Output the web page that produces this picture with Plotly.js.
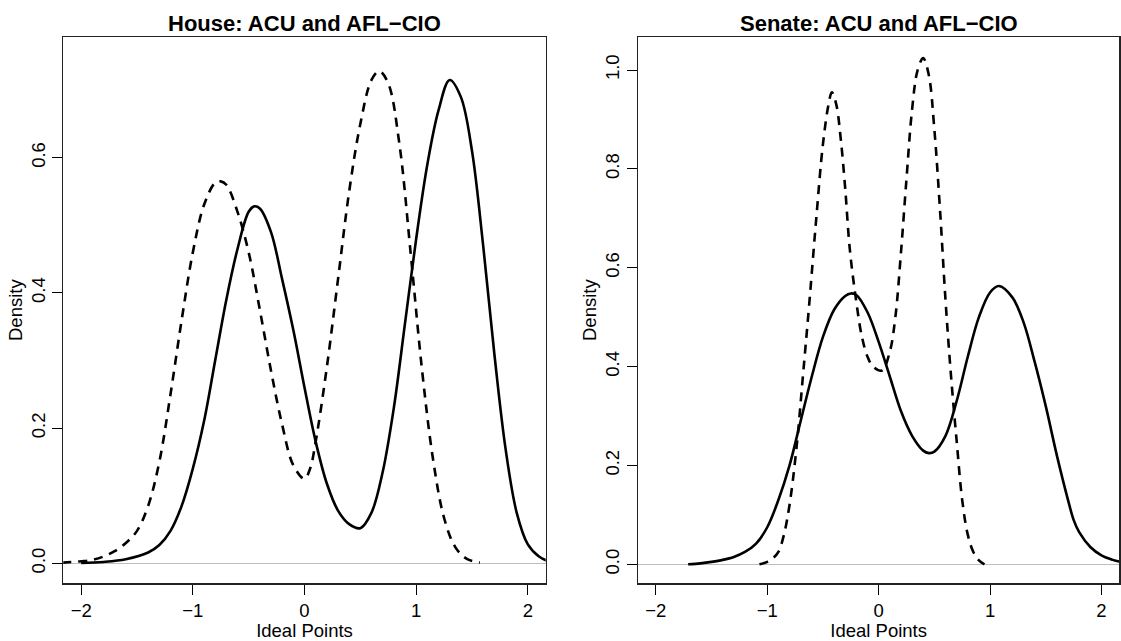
<!DOCTYPE html>
<html>
<head>
<meta charset="utf-8">
<script src="https://cdn.plot.ly/plotly-3.0.1.min.js"></script>
<style>html,body{margin:0;padding:0;background:#fff;}#chart{width:1121px;height:641px;}</style>
</head>
<body>
<div id="chart"></div>
<script>
// House panel
var houseSolidX = [-2.0, -1.8, -1.6, -1.4, -1.3, -1.2, -1.1, -1.0, -0.9, -0.8, -0.7, -0.6, -0.5, -0.45, -0.4, -0.3, -0.2, -0.1, 0.0, 0.1, 0.2, 0.3, 0.4, 0.5, 0.6, 0.7, 0.8, 0.9, 1.0, 1.1, 1.2, 1.3, 1.4, 1.5, 1.6, 1.7, 1.8, 1.9, 2.0, 2.1, 2.17];
var houseSolidY = [0.0005, 0.002, 0.006, 0.016, 0.027, 0.048, 0.085, 0.14, 0.21, 0.3, 0.39, 0.465, 0.52, 0.528, 0.525, 0.49, 0.42, 0.345, 0.26, 0.18, 0.118, 0.078, 0.058, 0.052, 0.075, 0.135, 0.23, 0.355, 0.48, 0.59, 0.67, 0.715, 0.69, 0.61, 0.47, 0.31, 0.17, 0.075, 0.028, 0.01, 0.004];
var houseDashX = [-2.17, -2.0, -1.9, -1.8, -1.7, -1.6, -1.5, -1.4, -1.3, -1.2, -1.1, -1.0, -0.9, -0.8, -0.75, -0.7, -0.6, -0.5, -0.4, -0.3, -0.2, -0.1, 0.0, 0.05, 0.1, 0.2, 0.3, 0.4, 0.5, 0.6, 0.67, 0.75, 0.85, 0.95, 1.05, 1.15, 1.25, 1.35, 1.45, 1.57];
var houseDashY = [0.001, 0.003, 0.005, 0.01, 0.018, 0.03, 0.048, 0.085, 0.15, 0.25, 0.36, 0.46, 0.53, 0.563, 0.565, 0.56, 0.52, 0.46, 0.375, 0.285, 0.205, 0.145, 0.125, 0.14, 0.18, 0.29, 0.42, 0.55, 0.65, 0.715, 0.728, 0.71, 0.62, 0.46, 0.29, 0.155, 0.067, 0.024, 0.007, 0.001];

// Senate panel
var senateSolidX = [-1.71, -1.6, -1.5, -1.4, -1.3, -1.2, -1.1, -1.0, -0.9, -0.8, -0.7, -0.6, -0.5, -0.4, -0.3, -0.25, -0.2, -0.1, 0.0, 0.1, 0.2, 0.3, 0.4, 0.45, 0.5, 0.6, 0.7, 0.8, 0.9, 1.0, 1.08, 1.2, 1.3, 1.4, 1.5, 1.6, 1.7, 1.75, 1.8, 1.9, 2.0, 2.1, 2.17];
var senateSolidY = [0.0, 0.002, 0.005, 0.009, 0.015, 0.025, 0.042, 0.075, 0.13, 0.2, 0.29, 0.38, 0.46, 0.515, 0.543, 0.548, 0.545, 0.51, 0.45, 0.38, 0.31, 0.26, 0.23, 0.225, 0.228, 0.26, 0.33, 0.42, 0.5, 0.55, 0.563, 0.54, 0.49, 0.41, 0.32, 0.22, 0.13, 0.09, 0.065, 0.035, 0.018, 0.009, 0.005];
var senateDashX = [-1.07, -1.0, -0.95, -0.9, -0.85, -0.8, -0.74, -0.68, -0.62, -0.56, -0.5, -0.45, -0.42, -0.38, -0.34, -0.3, -0.26, -0.2, -0.15, -0.1, -0.05, 0.03, 0.1, 0.15, 0.2, 0.25, 0.3, 0.35, 0.4, 0.45, 0.5, 0.55, 0.6, 0.65, 0.7, 0.75, 0.8, 0.85, 0.9, 0.95];
var senateDashY = [0.0, 0.005, 0.012, 0.025, 0.06, 0.12, 0.23, 0.38, 0.535, 0.7, 0.85, 0.93, 0.955, 0.93, 0.86, 0.76, 0.64, 0.53, 0.46, 0.42, 0.4, 0.392, 0.43, 0.5, 0.63, 0.78, 0.92, 1.0, 1.024, 0.99, 0.88, 0.72, 0.535, 0.38, 0.25, 0.13, 0.06, 0.025, 0.008, 0.0];

var panelTitles = ["House: ACU and AFL\u2212CIO", "Senate: ACU and AFL\u2212CIO"];
var xTickVals = [-2, -1, 0, 1, 2];
var houseYTicks = [0, 0.2, 0.4, 0.6];
var senateYTicks = [0, 0.2, 0.4, 0.6, 0.8, 1.0];

var FONT = "Liberation Sans, Arial, Helvetica, sans-serif";
var FS = 18.5;
function solid(x, y, xa, ya) {
  return {x: x, y: y, xaxis: xa, yaxis: ya, mode: "lines", type: "scatter",
          line: {color: "#000", width: 2.6, shape: "spline", smoothing: 1}, showlegend: false, hoverinfo: "skip"};
}
function dashed(x, y, xa, ya) {
  return {x: x, y: y, xaxis: xa, yaxis: ya, mode: "lines", type: "scatter",
          line: {color: "#000", width: 2.6, shape: "spline", smoothing: 1, dash: "9px,7px"}, showlegend: false, hoverinfo: "skip"};
}
var data = [
  dashed(houseDashX, houseDashY, "x", "y"),
  solid(houseSolidX, houseSolidY, "x", "y"),
  dashed(senateDashX, senateDashY, "x2", "y2"),
  solid(senateSolidX, senateSolidY, "x2", "y2")
];

function xax(domain, anchor) {
  return {domain: domain, anchor: anchor, range: [-2.16, 2.16], tickvals: xTickVals, ticks: "outside", ticklen: 10,
    tickwidth: 1, tickcolor: "#000", showline: true, mirror: true, linecolor: "#222", linewidth: 1.3,
    showgrid: false, zeroline: false, tickfont: {family: FONT, size: FS, color: "#000"},
    title: {text: "Ideal Points", font: {family: FONT, size: FS, color: "#000"}, standoff: 1}};
}
function yax(domain, anchor, range, ticks) {
  return {domain: domain, anchor: anchor, range: range, tickvals: ticks, tickformat: ".1f", ticks: "outside", ticklen: 10,
    tickwidth: 1, tickcolor: "#000", tickangle: -90, showline: true, mirror: true, linecolor: "#222", linewidth: 1.3,
    showgrid: false, zeroline: true, zerolinecolor: "#bdbdbd", zerolinewidth: 1,
    tickfont: {family: FONT, size: FS, color: "#000"},
    title: {text: "Density", font: {family: FONT, size: FS, color: "#000"}, standoff: 0}};
}
var yDom = [0.0900, 0.9423];
var layout = {
  width: 1121, height: 641, margin: {l: 0, r: 0, t: 0, b: 0},
  paper_bgcolor: "#fff", plot_bgcolor: "#fff", font: {family: FONT, color: "#000"},
  xaxis: xax([0.05647, 0.48680], "y"),
  yaxis: yax(yDom, "x", [-0.0296, 0.7786], houseYTicks),
  xaxis2: xax([0.56914, 0.99848], "y2"),
  yaxis2: yax(yDom, "x2", [-0.0384, 1.0668], senateYTicks),
  annotations: [
    {text: "<b>" + panelTitles[0] + "</b>", xref: "x domain", yref: "paper", x: 0.5, y: 0.964, xanchor: "center", yanchor: "middle", showarrow: false, font: {family: FONT, size: 22, color: "#000"}},
    {text: "<b>" + panelTitles[1] + "</b>", xref: "x2 domain", yref: "paper", x: 0.5, y: 0.964, xanchor: "center", yanchor: "middle", showarrow: false, font: {family: FONT, size: 22, color: "#000"}}
  ]
};
Plotly.newPlot("chart", data, layout, {staticPlot: true, displayModeBar: false});
</script>
</body>
</html>
